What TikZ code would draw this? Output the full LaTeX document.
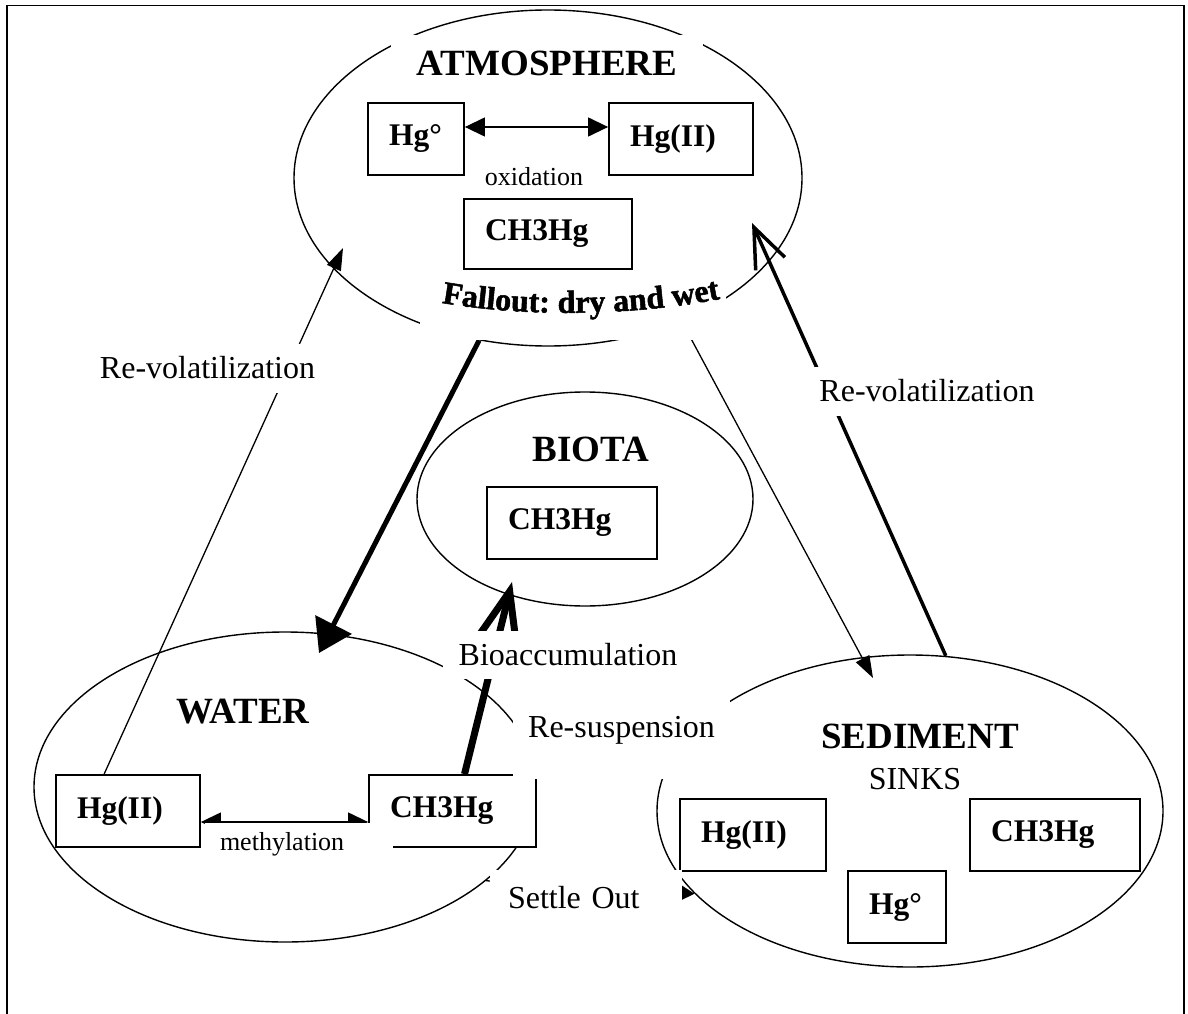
\documentclass[tikz,border=0pt]{standalone}
\usepackage{fontspec}
\setmainfont{Liberation Serif}
\newfontfamily\wordartfont[BoldFeatures={FakeBold=1.6}]{Liberation Serif}
\usetikzlibrary{arrows.meta,decorations.text,shapes.geometric}
\begin{document}
\begin{tikzpicture}[x=1pt,y=-1pt,
  region/.style={draw,ellipse,line width=1.4pt,inner sep=0pt},
  hgbox/.style={draw,line width=1.8pt,fill=white,align=left,inner xsep=21pt,inner ysep=0pt,minimum height=72pt,font=\fontsize{31.5}{36}\selectfont\bfseries},
  regtitle/.style={font=\fontsize{37}{44}\selectfont\bfseries},
  flowlbl/.style={fill=white,inner ysep=0pt,font=\fontsize{32}{38}\selectfont},
  proclbl/.style={font=\fontsize{26}{31}\selectfont},
  thinflow/.style={line width=1.3pt,-{Triangle[length=22pt,width=15pt]}},
  exchange/.style={line width=1.3pt,{Triangle[length=20pt,width=19pt]}-{Triangle[length=20pt,width=19pt]}}]
\useasboundingbox (0,0) rectangle (1188,1014);
\draw[line width=1.8pt] (7,1014) -- (7,5.5) -- (1184,5.5) -- (1184,1014);
\node[region,minimum width=508pt,minimum height=336pt] (atm) at (548,178) {};
\node[region,minimum width=336pt,minimum height=214pt] (biota) at (585,499) {};
\node[region,minimum width=502pt,minimum height=310pt] (water) at (285,787) {};
\node[region,minimum width=506pt,minimum height=312pt] (sed) at (910,811) {};
\node[hgbox,text width=54pt] (aHg0) at (416,139) {Hg°};
\node[hgbox,text width=102pt] (aHgII) at (681,139) {Hg(II)};
\node[hgbox,text width=126pt,minimum height=70pt] (aCH) at (548,234) {CH3Hg};
\node[hgbox,text width=128pt] (bCH) at (572,523) {CH3Hg};
\node[hgbox,text width=102pt] (wHgII) at (128,811) {Hg(II)};
\node[hgbox,text width=125pt] (wCH) at (452.5,811) {CH3Hg};
\node[hgbox,text width=104pt] (sHgII) at (753,835) {Hg(II)};
\node[hgbox,text width=128pt] (sCH) at (1055,835) {CH3Hg};
\node[hgbox,text width=56pt] (sHg0) at (897,907) {Hg°};
\coordinate (fallEnd) at (319,653);
\coordinate (sedEnd) at (873,678);
\coordinate (leftUp) at (343,248);
\coordinate (rightUp) at (752,223);
\coordinate (bioEnd) at (512,582);
\draw[exchange] ([yshift=12pt]aHg0.east) -- ([yshift=12pt]aHgII.west);
\draw[exchange] ([yshift=-11pt]wHgII.east) -- ([yshift=-11pt]wCH.west);
\draw[line width=5pt,-{Triangle[length=32pt,width=40pt]}] (atm.247) -- (fallEnd);
\draw[thinflow] (atm.-47) -- (sedEnd);
\draw[thinflow] ([xshift=49pt]wHgII.north west) -- (leftUp);
\draw[line width=3.5pt,-{Straight Barb[length=40pt,width=32pt]}] (sed.77) -- (rightUp);
\draw[line width=7pt,-{Straight Barb[length=52pt,width=40pt]}] ([xshift=12pt]wCH.north) -- (bioEnd);
\draw[thinflow,-{Triangle[length=18pt,width=20pt]}] (water.-25) -- (sed.201);
\fill[white] (420,272) rectangle (726,340);
\path[decorate,decoration={text along path,text align=center,text={|\wordartfont\fontsize{32}{36}\selectfont\bfseries|Fallout: dry and wet}}] (437,302) .. controls (520,317) and (630,317) .. (725,298);
\node[flowlbl,inner xsep=6pt,minimum height=49pt] (revolL) at (207.5,368) {Re-volatilization};
\node[flowlbl,inner xsep=6pt,minimum height=49pt] (revolR) at (927,391) {Re-volatilization};
\node[flowlbl,inner xsep=16pt,minimum height=48pt] (bioacc) at (568,655) {Bioaccumulation};
\node[flowlbl,inner xsep=15pt,minimum height=79pt,text height=20pt,text depth=25pt] (resusp) at (621.5,739.5) {Re-suspension};
\node[flowlbl,align=left,text width=156pt,inner xsep=18pt,minimum height=55pt] (settle) at (586,897.5) {Settle Out};
\node[proclbl,fill=white,inner ysep=0pt,align=left,text width=158pt,inner xsep=15pt,minimum height=42pt] (methyl) at (299,844) {methylation};
\node[proclbl] (oxid) at (534,177) {oxidation};
\node[regtitle,fill=white,inner sep=0pt,minimum width=312pt,minimum height=56pt] (atmT) at (547,63) {ATMOSPHERE};
\node[regtitle] (biotaT) at (591,449) {BIOTA};
\node[regtitle] (waterT) at (243,712) {WATER};
\node[regtitle] (sedT) at (920,736) {SEDIMENT};
\node[font=\fontsize{32}{38}\selectfont] (sinks) at (915,779) {SINKS};
\end{tikzpicture}
\end{document}
